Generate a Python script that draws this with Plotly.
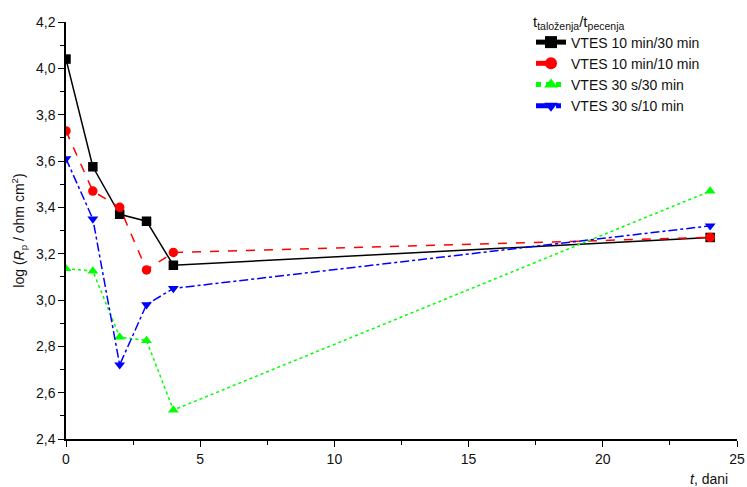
import plotly.graph_objects as go

days = [0, 1, 2, 3, 4, 24]
s1 = [4.04, 3.575, 3.37, 3.34, 3.15, 3.27]
s2 = [3.73, 3.47, 3.40, 3.13, 3.205, 3.27]
s3 = [3.135, 3.125, 2.84, 2.825, 2.525, 3.47]
s4 = [3.61, 3.35, 2.72, 2.98, 3.05, 3.32]
names = ["VTES 10 min/30 min", "VTES 10 min/10 min", "VTES 30 s/30 min", "VTES 30 s/10 min"]

series = [s1, s2, s3, s4]
colors = ["#000000", "#ff0000", "#00ff00", "#0000ff"]
dashes = ["solid", "dash", "dot", "dashdot"]
symbols = ["square", "circle", "triangle-up", "triangle-down"]

FONT = "Liberation Sans, Arial"

fig = go.Figure()
for ys, nm, c, d, s in zip(series, names, colors, dashes, symbols):
    fig.add_trace(go.Scatter(x=days, y=ys, name=nm, mode="lines+markers",
                             line=dict(color=c, dash=d, width=1.5),
                             marker=dict(symbol=s, color=c, size=9.5)))

axis_common = dict(showgrid=False, zeroline=False, showline=True, linecolor="black",
                   linewidth=1.5, ticks="outside", ticklen=6, tickwidth=1.2, tickcolor="black",
                   automargin=False,
                   tickfont=dict(family=FONT, size=14, color="#111"))
fig.update_xaxes(range=[0, 25], dtick=5, tick0=0,
                 minor=dict(dtick=2.5, ticks="outside", ticklen=4, tickcolor="black"),
                 **axis_common)
fig.update_yaxes(range=[2.4, 4.2], dtick=0.2, tick0=2.4, tickformat=".1f",
                 minor=dict(dtick=0.1, ticks="outside", ticklen=4, tickcolor="black"),
                 title=dict(text="log (<i>R</i><sub>p</sub> / ohm cm<sup>2</sup>)",
                            font=dict(family=FONT, size=14, color="#111"),
                            standoff=8),
                 **axis_common)

fig.add_annotation(text="<i>t</i>, dani", xref="paper", yref="paper", x=0.99, y=-0.071,
                   xanchor="right", yanchor="top", showarrow=False,
                   font=dict(family=FONT, size=14, color="#111"))

fig.update_layout(
    width=747, height=487, separators=",.",
    plot_bgcolor="white", paper_bgcolor="white",
    margin=dict(l=66, r=10, t=22, b=48, autoexpand=False),
    font=dict(family=FONT, size=14, color="#111"),
    legend=dict(x=0.693, y=0.9856, yref="container", xanchor="left", yanchor="top",
                bgcolor="rgba(0,0,0,0)",
                tracegroupgap=0, itemsizing="constant", font=dict(size=14),
                title=dict(text="t<sub>taloženja</sub>/t<sub>pecenja</sub>", side="top",
                           font=dict(size=15))),
)

fig.write_html("out.html", config={"displayModeBar": False},
               post_script="document.body.style.margin='0';document.body.style.overflow='hidden';")
